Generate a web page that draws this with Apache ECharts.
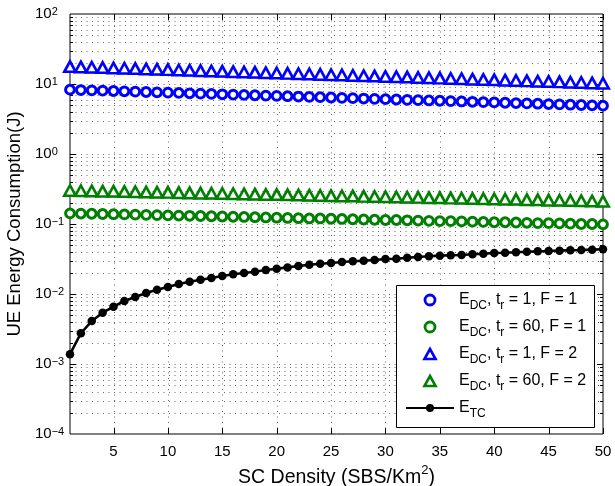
<!DOCTYPE html>
<html>
<head>
<meta charset="utf-8">
<title>UE Energy Consumption vs SC Density</title>
<script src="https://cdn.jsdelivr.net/npm/echarts@6/dist/echarts.min.js"></script>
<style>
  html, body { margin: 0; padding: 0; background: #fff; }
  #chart { width: 615px; height: 486px; }
</style>
</head>
<body>
<div id="chart"></div>
<script>
// SC density (SBS/Km^2)
const density = [1, 2, 3, 4, 5, 6, 7, 8, 9, 10, 11, 12, 13, 14, 15, 16, 17, 18, 19, 20,
  21, 22, 23, 24, 25, 26, 27, 28, 29, 30, 31, 32, 33, 34, 35, 36, 37, 38, 39, 40,
  41, 42, 43, 44, 45, 46, 47, 48, 49, 50];

// E_DC, t_r = 1, F = 1 (J)
const edcT1F1 = [8.29, 8.20, 8.11, 8.03, 7.94, 7.86, 7.77, 7.69, 7.61, 7.53,
  7.45, 7.37, 7.29, 7.21, 7.13, 7.06, 6.98, 6.91, 6.83, 6.76,
  6.69, 6.62, 6.55, 6.48, 6.41, 6.34, 6.27, 6.20, 6.14, 6.07,
  6.01, 5.94, 5.88, 5.82, 5.76, 5.70, 5.63, 5.57, 5.51, 5.46,
  5.40, 5.34, 5.28, 5.23, 5.17, 5.12, 5.06, 5.01, 4.96, 4.90];

// E_DC, t_r = 60, F = 1 (J)
const edcT60F1 = [0.142, 0.141, 0.140, 0.139, 0.138, 0.137, 0.136, 0.135, 0.134, 0.133,
  0.132, 0.131, 0.130, 0.129, 0.128, 0.127, 0.126, 0.125, 0.124, 0.123,
  0.122, 0.121, 0.120, 0.120, 0.119, 0.118, 0.117, 0.116, 0.115, 0.114,
  0.114, 0.113, 0.112, 0.111, 0.110, 0.110, 0.109, 0.108, 0.107, 0.106,
  0.106, 0.105, 0.104, 0.103, 0.103, 0.102, 0.101, 0.100, 0.100, 0.099];

// E_DC, t_r = 1, F = 2 (J)
const edcT1F2 = [15.30, 15.13, 14.96, 14.80, 14.63, 14.47, 14.31, 14.15, 13.99, 13.84,
  13.68, 13.53, 13.38, 13.23, 13.08, 12.94, 12.79, 12.65, 12.51, 12.37,
  12.23, 12.10, 11.96, 11.83, 11.70, 11.57, 11.44, 11.31, 11.19, 11.06,
  10.94, 10.82, 10.70, 10.58, 10.46, 10.34, 10.23, 10.11, 10.00, 9.89,
  9.78, 9.67, 9.56, 9.46, 9.35, 9.25, 9.14, 9.04, 8.94, 8.85];

// E_DC, t_r = 60, F = 2 (J)
const edcT60F2 = [0.260, 0.258, 0.256, 0.254, 0.253, 0.251, 0.249, 0.247, 0.245, 0.244,
  0.242, 0.240, 0.238, 0.237, 0.235, 0.233, 0.232, 0.230, 0.228, 0.227,
  0.225, 0.224, 0.222, 0.220, 0.219, 0.217, 0.216, 0.214, 0.213, 0.211,
  0.210, 0.208, 0.207, 0.205, 0.204, 0.202, 0.201, 0.199, 0.198, 0.196,
  0.195, 0.194, 0.192, 0.191, 0.189, 0.188, 0.187, 0.185, 0.184, 0.182];

// E_TC (J)
const etc = [0.00138, 0.00275, 0.00411, 0.00541, 0.00659, 0.00794, 0.00906, 0.01033, 0.0115, 0.0126,
  0.0139, 0.0150, 0.0160, 0.0169, 0.0181, 0.0191, 0.0200, 0.0208, 0.0220, 0.0230,
  0.0240, 0.0251, 0.0262, 0.0271, 0.0277, 0.0286, 0.0293, 0.0299, 0.0306, 0.0316,
  0.0319, 0.0330, 0.0338, 0.0346, 0.0353, 0.0357, 0.0361, 0.0369, 0.0376, 0.0385,
  0.0389, 0.0394, 0.0402, 0.0407, 0.0411, 0.0416, 0.0421, 0.0425, 0.0430, 0.0435];

// Tick labels
const xTicks = [5, 10, 15, 20, 25, 30, 35, 40, 45, 50];
const yTicks = [1e-4, 1e-3, 1e-2, 1e-1, 1e0, 1e1, 1e2];

const X_MIN = 1, X_MAX = 50, Y_MIN = 1e-4, Y_MAX = 1e2;
const FONT = 'Liberation Sans, Arial, Helvetica, sans-serif';

// Horizontal grid rows: interior decades (major) plus 2..9 within each decade (minor)
const hGrid = [];
for (let e = -4; e < 2; e++) {
  for (let m = 1; m <= 9; m++) {
    if (m === 1 && e === -4) continue;
    hGrid.push([X_MIN, m * Math.pow(10, e), m === 1 ? 1 : 0]);
  }
}
const vGrid = xTicks.map(function (x) { return [x, Y_MIN]; });

function px(v) { return Math.round(v) + 0.5; }

const dotStyle = { stroke: '#6a6a6a', lineWidth: 1, lineDash: [1, 4.5] };
const tickStyle = { stroke: '#000', lineWidth: 1 };

function renderHGrid(params, api) {
  const v = api.value(1);
  const major = api.value(2) === 1;
  const a = api.coord([X_MIN, v]);
  const b = api.coord([X_MAX, v]);
  const y = px(a[1]);
  const t = major ? 6 : 3;
  return {
    type: 'group',
    children: [
      { type: 'line', shape: { x1: a[0], y1: y, x2: b[0], y2: y }, style: dotStyle, silent: true },
      { type: 'line', shape: { x1: a[0], y1: y, x2: a[0] + t, y2: y }, style: tickStyle, silent: true },
      { type: 'line', shape: { x1: b[0] - t, y1: y, x2: b[0], y2: y }, style: tickStyle, silent: true }
    ]
  };
}

function renderVGrid(params, api) {
  const x = api.value(0);
  const a = api.coord([x, Y_MIN]);
  const b = api.coord([x, Y_MAX]);
  const xx = px(a[0]);
  const children = [
    { type: 'line', shape: { x1: xx, y1: a[1], x2: xx, y2: a[1] - 6 }, style: tickStyle, silent: true },
    { type: 'line', shape: { x1: xx, y1: b[1], x2: xx, y2: b[1] + 6 }, style: tickStyle, silent: true }
  ];
  if (x < X_MAX) {
    children.unshift({ type: 'line', shape: { x1: xx, y1: a[1], x2: xx, y2: b[1] }, style: dotStyle, silent: true });
  }
  return { type: 'group', children: children };
}

function pairs(ys) { return density.map(function (x, i) { return [x, ys[i]]; }); }

const NAMES = {
  a: 'E_DC, t_r = 1, F = 1',
  b: 'E_DC, t_r = 60, F = 1',
  c: 'E_DC, t_r = 1, F = 2',
  d: 'E_DC, t_r = 60, F = 2',
  e: 'E_TC'
};
const LEGEND_TEXT = {};
LEGEND_TEXT[NAMES.a] = '{m|E}{s|DC}{m|, t}{s|r}{m| = 1, F = 1}';
LEGEND_TEXT[NAMES.b] = '{m|E}{s|DC}{m|, t}{s|r}{m| = 60, F = 1}';
LEGEND_TEXT[NAMES.c] = '{m|E}{s|DC}{m|, t}{s|r}{m| = 1, F = 2}';
LEGEND_TEXT[NAMES.d] = '{m|E}{s|DC}{m|, t}{s|r}{m| = 60, F = 2}';
LEGEND_TEXT[NAMES.e] = '{m|E}{s|TC}';

const BLUE = '#0000ff', GREEN = '#008000', BLACK = '#000000';
const TRIANGLE = 'path://M5,0 L10,9 L0,9 Z';
const RING = 'path://M5,0 A5,5 0 1 1 4.999,0 Z';

// hollow marker styles (white interior, coloured outline)
function hollow(color, w) { return { color: '#fff', borderColor: color, borderWidth: w, opacity: 1 }; }

const chart = echarts.init(document.getElementById('chart'), null, { renderer: 'canvas' });

chart.setOption({
  animation: false,
  backgroundColor: '#fff',
  textStyle: { fontFamily: FONT },
  grid: {
    left: 70, right: 12, top: 14, bottom: 52,
    containLabel: false, outerBoundsMode: 'none',
    show: true, borderColor: '#000', borderWidth: 1, backgroundColor: 'transparent'
  },
  // legend frame
  graphic: [{
    type: 'rect', left: 396, top: 285, z: 9, silent: true,
    shape: { width: 198, height: 142 },
    style: { fill: '#fff', stroke: '#000', lineWidth: 1 }
  }],
  xAxis: {
    type: 'value', min: X_MIN, max: X_MAX,
    axisLine: { show: false }, axisTick: { show: false }, splitLine: { show: false },
    axisLabel: {
      customValues: xTicks, color: '#000', fontSize: 15, margin: 10, fontFamily: FONT
    },
    name: '{m|SC Density (SBS/Km}{p|2}{m|)}',
    nameLocation: 'middle', nameGap: 21,
    nameTextStyle: {
      color: '#000', fontFamily: FONT,
      rich: {
        m: { fontSize: 19.5, lineHeight: 24, verticalAlign: 'bottom', color: '#000', fontFamily: FONT },
        p: { fontSize: 13, lineHeight: 13, verticalAlign: 'top', color: '#000', fontFamily: FONT }
      }
    }
  },
  yAxis: {
    type: 'log', min: Y_MIN, max: Y_MAX, logBase: 10,
    axisLine: { show: false }, axisTick: { show: false }, splitLine: { show: false },
    axisLabel: {
      customValues: yTicks, align: 'left', margin: 35, color: '#000', fontFamily: FONT,
      formatter: function (v) {
        const e = Math.round(Math.log10(v));
        return '{b|10}{e|' + (e < 0 ? '\u2212' + (-e) : e) + '}';
      },
      rich: {
        b: { fontSize: 15, lineHeight: 15, verticalAlign: 'bottom', color: '#000', fontFamily: FONT },
        e: { fontSize: 11, lineHeight: 10, verticalAlign: 'top', color: '#000', fontFamily: FONT }
      }
    },
    name: 'UE Energy Consumption(J)',
    nameLocation: 'middle', nameGap: 44, nameRotate: 90,
    nameTextStyle: { color: '#000', fontSize: 18.5, fontFamily: FONT }
  },
  legend: {
    orient: 'vertical', left: 396, top: 285, z: 10,
    padding: [7, 0, 7, 9], itemGap: 7, itemWidth: 48, itemHeight: 10,
    selectedMode: false,
    data: [
      { name: NAMES.a, icon: RING, itemStyle: hollow(BLUE, 2.8) },
      { name: NAMES.b, icon: RING, itemStyle: hollow(GREEN, 2.8) },
      { name: NAMES.c, icon: TRIANGLE, itemStyle: hollow(BLUE, 2.6) },
      { name: NAMES.d, icon: TRIANGLE, itemStyle: hollow(GREEN, 2.6) },
      { name: NAMES.e }
    ],
    formatter: function (name) { return LEGEND_TEXT[name]; },
    textStyle: {
      color: '#000', fontFamily: FONT,
      rich: {
        m: { fontSize: 16, lineHeight: 16, verticalAlign: 'top', color: '#000', fontFamily: FONT },
        s: { fontSize: 12, lineHeight: 12, padding: [8, 0, 0, 0], verticalAlign: 'top', color: '#000', fontFamily: FONT }
      }
    }
  },
  series: [
    {
      name: 'hgrid', type: 'custom', renderItem: renderHGrid, data: hGrid,
      encode: { x: 0, y: 1 }, silent: true, z: 1, clip: false
    },
    {
      name: 'vgrid', type: 'custom', renderItem: renderVGrid, data: vGrid,
      encode: { x: 0, y: 1 }, silent: true, z: 1, clip: false
    },
    {
      name: NAMES.c, type: 'line', data: pairs(edcT1F2), z: 3,
      symbol: 'triangle', symbolSize: [11.5, 10.5], symbolOffset: [0, -4.5], showAllSymbol: true,
      lineStyle: { color: BLUE, width: 2.8 },
      itemStyle: hollow(BLUE, 2.6)
    },
    {
      name: NAMES.a, type: 'scatter', data: pairs(edcT1F1), z: 3,
      symbol: 'circle', symbolSize: 8.8,
      itemStyle: hollow(BLUE, 3)
    },
    {
      name: NAMES.d, type: 'line', data: pairs(edcT60F2), z: 3,
      symbol: 'triangle', symbolSize: [11.5, 10.5], symbolOffset: [0, -4.5], showAllSymbol: true,
      lineStyle: { color: GREEN, width: 2.8 },
      itemStyle: hollow(GREEN, 2.6)
    },
    {
      name: NAMES.b, type: 'scatter', data: pairs(edcT60F1), z: 3,
      symbol: 'circle', symbolSize: 8.8,
      itemStyle: hollow(GREEN, 3)
    },
    {
      name: NAMES.e, type: 'line', data: pairs(etc), z: 4,
      symbol: 'circle', symbolSize: 8.5, showAllSymbol: true,
      lineStyle: { color: BLACK, width: 2.6 },
      itemStyle: { color: BLACK }
    }
  ]
});
</script>
</body>
</html>
